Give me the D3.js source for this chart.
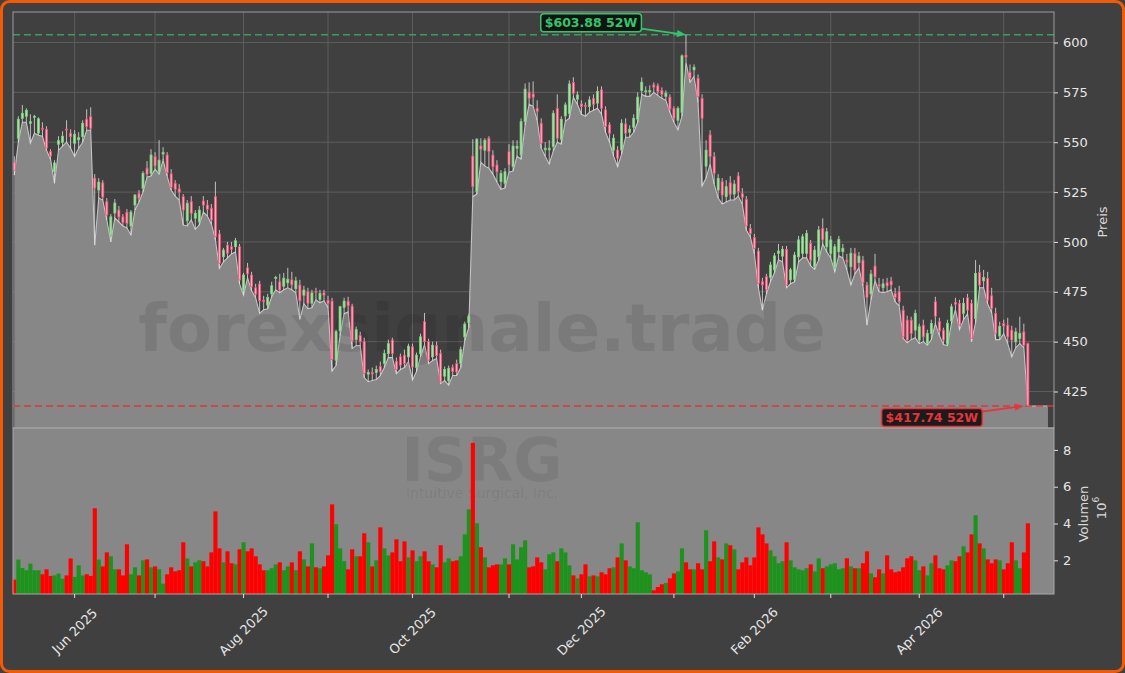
<!DOCTYPE html>
<html>
<head>
<meta charset="utf-8">
<script src="https://cdn.jsdelivr.net/npm/d3@7"></script>
<style>
  body { margin: 0; background: #404040; }
  svg { display: block; font-family: "DejaVu Sans", sans-serif; }
</style>
</head>
<body>
<div id="chart"></div>
<script>
// ISRG daily candles, May 2025 - May 2026: [open, high, low, close]
const candles = [
  [540,543,533.5,536],[552,563,550,561.5],[562,568.7,560,564.5],[563,567,560,566],[559.5,564,549.5,560.3],
  [562.5,563.7,554.5,563],[554.6,562.5,553.5,561.7],[557,560,553,556.5],[556.5,558,546,547],[545.3,546.5,541.5,543.1],
  [535.2,541,529.4,539.6],[549,553,546,550.8],[550,555.5,548,553],[556.6,561,550,556.2],[554.5,556.5,547,552.8],
  [549.5,556,542.8,554],[551.2,555,547,552.3],[552.8,561,550,559.5],[561.5,566.5,556,557.8],[562.8,567.5,556,557],
  [532,534,498.4,527],[526,532,522,530],[529.6,531,521,522.5],[520.2,522,511,513.5],[503.5,514,500,512.6],
  [514.5,521.5,512,519.5],[516,518,510,512.5],[512.6,514,508,509.8],[514.9,516.5,507,509.3],[508,516,503.5,515],
  [518.5,524,516,523.5],[524.4,526,520,521.9],[526.9,535.5,525,534.4],[537,540.5,532.5,534],[534.4,546.5,533,543.6],
  [542.8,545,536.5,538.1],[535.2,551,534,541],[544.1,547.5,541,544.8],[543.6,545,533,534.7],[534.1,536.5,526,527.4],
  [529.4,531,523,526.4],[526.6,529,521,525],[522.7,524,508.5,516],[510.6,521,508,519.4],[520.2,523,511,514.4],
  [511.9,516,506.3,514.4],[510.1,518,508.5,516],[520.5,523,515,518.5],[518.5,521,513,516.4],[516.9,519,509,511],
  [522.7,530.2,501,502.6],[504,506,486.7,489.3],[492.6,497,490,495.9],[498.4,500,492,494.3],[497.6,500,494,496.3],
  [497.6,502,495,500.6],[497.6,499,479,480.9],[475.8,484.5,473.3,483.4],[487,489.5,482,484],[483.4,485,475.5,477.5],
  [477,479,472,473.8],[478.9,480.5,464.2,470.5],[470.8,473,466,470],[468.3,474,466.5,472.2],[474,480,472.5,478],
  [481.7,483,476,482.2],[480,484,474.5,475.9],[477.8,484.5,476,481.8],[479.5,487,477,481.3],[481,485,476,478.5],
  [476.5,482.5,474.5,480.5],[478.4,481,461.2,470.5],[473.3,478,469,475.9],[475,477,466.5,469.2],[469.3,476,467,474.4],
  [475.3,477,471,474.8],[471.2,476,469.5,474.2],[474.5,476,470.5,473.3],[470.8,473,467,469.2],[470.3,472,435.2,441],
  [440.7,456,438,455],[455.4,468,453,467.5],[467.2,472,464,470.3],[470.3,472.5,465,468],[467.8,469,446.6,450.4],
  [451,457.5,448,456],[453,455,448,450],[450,452,432,434.1],[433.7,436,429.9,434.5],[434.5,437,430.5,433.8],
  [434.6,438,431,436],[437.5,440,433,435],[439,446,437,444],[444,451,442,449],[450.8,452,442,444],
  [440,442,434,436],[442.4,444,436,438.2],[443.2,446,437,439],[442.4,449,440,447.7],[447.4,449,430.7,437.3],
  [437,444.5,435,443.2],[444,454,442.5,452.4],[460,464.4,448.5,450],[450,451.5,439,440.7],[442.4,450,440.5,448.2],
  [448,450,441.5,443],[444,446,429,429.8],[432.7,437.5,430.5,436],[430.3,438,428.2,436.5],[437,438.5,433,435],
  [439,441,433,434.8],[439,447.5,437,446],[452.4,460,450.5,458.8],[459.5,464,457,462.8],[543.1,551.5,522.7,527.7],
  [525.2,552,524,551.5],[548.2,552,540,546.5],[546,552,538,551],[552,553,537,545.3],[543.6,546,534,537.7],
  [538.6,541,530,535.2],[530.2,536,526.4,534.4],[529.4,537,527,535.2],[545.3,549,535,538.6],[537.7,551,535.5,548.1],
  [547,551,543,548],[543.6,562,541.5,560.3],[560.3,579.5,558.5,576.6],[575.2,580,569,572],[574.2,580.5,568,572.6],
  [567,571,561,565.4],[559.5,562,547,549.5],[546.2,550,543,547],[546.2,551,539,547],[547.8,566,545.5,564.5],
  [567,574,550,552],[551.5,563,549,561.5],[563.2,570,560.5,568.7],[564.5,581,562,579.2],[579.9,582.6,572.5,574.6],
  [571.6,575.5,569,573.7],[569.2,571,564,567.9],[568.5,570,563,567.9],[567.9,573,565,571.2],[572,574,566,569],
  [569.6,578,567,575.4],[576.3,578,564,567],[566.2,568,555,557.8],[558.7,560,550,554.5],[546,554,543,552],
  [546.1,548,537.7,542],[546.1,561.5,544,559.5],[559.2,562,552.5,554.5],[555,558.5,552.5,556.5],[557.5,564,555,562],
  [561.5,575,560,572.6],[575.9,582.5,574,580.1],[575.3,578,573,575.8],[575.3,578.5,573,575.9],[578.8,580,575,577.6],
  [578.3,579.5,573.5,575.4],[576,577.5,572,574],[572.9,576,571,574.6],[572.6,574,565,566.6],[567,568,560,562],
  [561,568,556.2,567],[564.9,594,563,593.3],[593.7,603.88,590,592.7],[585.1,589,580,582.1],[586.3,589,583,587.6],
  [582.1,584,570,572.9],[572,574,528,562],[538,551,532,546],[553.7,556,539,542.8],[542.8,545,529,534.4],
  [526,534,522,531.9],[530.2,532,519,523.5],[522.7,531,520,527.7],[529.7,533,521,523.9],[524,531,521,529],
  [533.1,535,523,525.2],[524.2,527,519,522.4],[521.4,523,506,508],[506.8,509,502.5,504.3],[502.3,504,494,496.8],
  [495.4,497,477,479.2],[480,482,465.8,478.5],[482.6,484,474,476],[482.2,490,480,488.4],[486,494.5,484.5,493],
  [494.3,499,491,495.4],[492.9,498,490,496.3],[496.3,498,477,478.4],[481,487,479,486],[481.2,495,480,493.4],
  [492.6,503,490,501],[494.3,504,492,502.6],[494.3,506,492,504.3],[499.3,501,488,490.9],[487.6,498,486.3,495.9],
  [492.6,508,491,506],[506.8,511.8,499,501],[497.6,507,495,505.1],[494.3,503,492,501],[487.3,499,485,497.6],
  [495.1,503,493,501.3],[495.1,499,492,496.8],[490.9,494,486,490],[487.6,497,478.4,494.3],[494.2,497,484,485.9],
  [489.6,495,487,492.9],[490.9,493,478,479.5],[478.4,480,458.3,472.2],[473.9,486,471,483.9],[487.9,494,480.5,482.5],
  [478.7,482,475,477.9],[477,481.5,474.5,479],[479.6,482,475,477.9],[480.4,482.5,476,478.4],[474.2,477,470,472.2],
  [475,478,468,470],[465.8,468,451.6,452.4],[460.8,463,449.4,450.8],[460.8,462.5,451,454.1],[455.8,466,452,464.2],
  [450.8,459,449,457.5],[458.3,461,450,452.4],[449.1,456,448.2,454.1],[454.1,461,451,459.1],[470,472.5,459,462.8],
  [460,462,453,455.4],[455.7,457,448.5,450.8],[448.8,461,448,459.2],[460.5,469,459,467.5],[469.7,472,466,468.8],
  [469.2,471,456,458.3],[464.2,472,461,469.2],[472,474,464,465.8],[469.2,471,450,451.6],[461.6,490.9,459.5,484.2],
  [484.7,488.5,477,478.4],[480.5,486,477,482.2],[481.7,485,469,470.8],[473,477,464.5,466.7],[464.2,467,451,454.1],
  [452.8,460,451,457.6],[459.1,461,454,457.8],[458.3,462,449,452.4],[455.8,458,442.4,450.8],[449.9,457,447,454.9],
  [451.6,462.5,449,454.1],[454.9,459,447,448.2],[449,449.5,417.74,418.2]
];

// daily volume, millions
const volumes = [
  0.95,2.04,1.58,1.46,1.82,1.46,1.46,1.24,1.51,1.15,1.18,1.28,1.0,1.18,2.1,1.1,1.73,1.18,1.24,1.15,
  4.83,2.04,1.67,2.43,2.22,1.51,1.51,1.18,2.87,1.24,1.62,1.18,2.0,2.05,1.62,1.67,1.51,0.73,1.24,1.62,
  1.4,1.46,2.98,2.1,1.67,1.89,2.0,1.95,1.67,2.43,4.66,2.65,1.89,2.49,1.84,1.78,2.6,2.98,2.49,2.65,
  2.22,1.78,1.46,1.46,1.57,1.78,1.89,1.46,1.67,1.89,1.46,2.49,2.05,1.67,2.92,1.62,1.57,1.67,2.27,5.04,
  3.96,2.65,1.95,1.51,2.6,2.22,2.22,3.47,2.98,1.67,2.0,3.79,2.65,2.27,2.43,3.14,1.95,3.03,2.16,2.54,
  1.95,2.22,2.49,1.95,1.78,1.62,2.82,1.89,2.11,1.95,2.0,2.22,3.41,4.77,8.38,4.01,2.71,2.16,1.62,1.73,
  1.78,1.78,2.11,1.78,2.87,2.05,2.71,3.09,1.62,1.67,2.16,1.89,1.51,2.33,2.43,1.95,2.65,2.43,1.73,1.18,
  1.02,1.24,1.78,1.13,1.18,1.13,1.35,1.24,1.57,1.62,2.16,2.92,2.0,1.67,1.57,4.07,1.46,1.35,1.24,0.37,
  0.55,0.7,0.77,1.02,1.29,1.4,2.65,1.89,1.51,1.51,1.84,1.51,3.63,1.95,3.03,2.16,2.05,2.92,2.82,2.6,
  1.51,1.89,2.16,1.73,2.16,3.79,3.41,2.92,2.54,2.22,1.84,1.95,2.98,2.0,1.62,1.51,1.46,1.57,1.78,1.4,
  2.11,1.57,1.67,1.78,1.84,1.51,1.57,2.11,1.67,1.57,1.57,1.84,2.49,1.29,1.08,1.51,1.29,2.27,1.51,1.35,
  1.4,1.62,2.11,2.22,2.0,1.46,1.67,1.18,1.84,2.27,1.57,1.51,1.73,2.0,1.95,2.22,2.76,2.43,3.41,4.45,
  2.92,2.65,2.05,1.84,2.05,2.0,1.51,1.84,2.98,2.0,1.57,2.43,4.01
];

// first trading day of each month (index into the candles)
const monthTickIdx = [15, 35, 57, 78, 99, 123, 141, 164, 184, 203, 225, 246];
const monthTickLabels = ["Jun 2025", "", "Aug 2025", "", "Oct 2025", "", "Dec 2025", "", "Feb 2026", "", "Apr 2026", ""];
const priceTicks = [425, 450, 475, 500, 525, 550, 575, 600];
const volumeTicks = [2, 4, 6, 8];

const W = 1125, H = 673;
const box = {left: 13, right: 1054, top: 12, mid: 428, bottom: 594};

const svg = d3.select("#chart").append("svg")
    .attr("width", W)
    .attr("height", H);

svg.append("rect")
    .attr("x", 1.5).attr("y", 1.5)
    .attr("width", W - 3).attr("height", H - 3)
    .attr("rx", 8)
    .attr("fill", "#404040")
    .attr("stroke", "#f25a05")
    .attr("stroke-width", 3);

const N = candles.length;
const x = d3.scaleLinear().domain([-0.32, 258.5]).range([box.left, box.right]);
const step = x(1) - x(0);
const yP = d3.scaleLinear().domain([406.7, 615.3]).range([box.mid, box.top]);
const yV = d3.scaleLinear().domain([0.17, 9.19]).range([box.bottom, box.mid]);

const upStroke = "#72d872", upFill = "#b9d8b9";
const dnStroke = "#ff4a76", dnFill = "#f3b3c2";

// grid
const grid = svg.append("g");
grid.selectAll("line.h")
  .data(priceTicks)
  .enter().append("line")
    .attr("x1", box.left).attr("x2", box.right)
    .attr("y1", d => yP(d)).attr("y2", d => yP(d))
    .attr("stroke", "#5d5d5d").attr("stroke-width", 1);
grid.selectAll("line.v")
  .data(monthTickIdx)
  .enter().append("line")
    .attr("x1", d => x(d)).attr("x2", d => x(d))
    .attr("y1", box.top).attr("y2", box.mid)
    .attr("stroke", "#5d5d5d").attr("stroke-width", 1);

// area under the lows
const lows = candles.map(d => d[2]);
const areaPts = lows.map((l, i) => [x(i), yP(l)]);
areaPts.push([x(N - 1 + 5), yP(lows[N - 1])]);
svg.append("path")
    .attr("d", d3.area().x(d => d[0]).y0(box.mid).y1(d => d[1])(areaPts))
    .attr("fill", "#878787");
svg.append("path")
    .attr("d", d3.line()(areaPts))
    .attr("fill", "none")
    .attr("stroke", "#c4c4c4")
    .attr("stroke-width", 1.1);

// watermark
svg.append("text")
    .attr("x", 482).attr("y", 351)
    .attr("text-anchor", "middle")
    .style("font-size", "66px")
    .style("font-weight", "bold")
    .attr("fill", "#000").attr("fill-opacity", 0.09)
    .text("forexsignale.trade");

// 52 week lines
const hiIdx = d3.maxIndex(candles, d => d[1]);
const loIdx = d3.minIndex(candles, d => d[2]);
const hi = candles[hiIdx][1], lo = candles[loIdx][2];
svg.append("line")
    .attr("x1", box.left).attr("x2", box.right)
    .attr("y1", yP(hi)).attr("y2", yP(hi))
    .attr("stroke", "#3a9e5f").attr("stroke-width", 1.6)
    .attr("stroke-dasharray", "7,4");
svg.append("line")
    .attr("x1", box.left).attr("x2", box.right)
    .attr("y1", yP(lo)).attr("y2", yP(lo))
    .attr("stroke", "#d83a3a").attr("stroke-width", 1.6)
    .attr("stroke-dasharray", "7,4");

// candles
const cg = svg.append("g");
cg.selectAll("line.wick")
  .data(candles)
  .enter().append("line")
    .attr("x1", (d, i) => x(i)).attr("x2", (d, i) => x(i))
    .attr("y1", d => yP(d[1])).attr("y2", d => yP(d[2]))
    .attr("stroke", "#e2e2e2").attr("stroke-width", 0.8);
const bw = step * 0.5;
cg.selectAll("rect.body")
  .data(candles)
  .enter().append("rect")
    .attr("x", (d, i) => x(i) - bw / 2)
    .attr("y", d => yP(Math.max(d[0], d[3])))
    .attr("width", bw)
    .attr("height", d => Math.max(1, Math.abs(yP(d[0]) - yP(d[3]))))
    .attr("fill", d => d[3] >= d[0] ? upFill : dnFill)
    .attr("stroke", d => d[3] >= d[0] ? upStroke : dnStroke)
    .attr("stroke-width", 0.8);

// volume panel
svg.append("rect")
    .attr("x", box.left).attr("y", box.mid)
    .attr("width", box.right - box.left).attr("height", box.bottom - box.mid)
    .attr("fill", "#878787");

svg.append("text")
    .attr("x", 482).attr("y", 481)
    .attr("text-anchor", "middle")
    .style("font-size", "60px").style("font-weight", "bold")
    .attr("fill", "#000").attr("fill-opacity", 0.08)
    .text("ISRG");
svg.append("text")
    .attr("x", 482).attr("y", 498)
    .attr("text-anchor", "middle")
    .style("font-size", "14px")
    .attr("fill", "#000").attr("fill-opacity", 0.08)
    .text("Intuitive Surgical, Inc.");

svg.selectAll("rect.vol")
  .data(volumes)
  .enter().append("rect")
    .attr("x", (d, i) => x(i) - step / 2)
    .attr("y", d => yV(d))
    .attr("width", step + 0.1)
    .attr("height", d => box.bottom - yV(d))
    .attr("fill", (d, i) => candles[i][3] >= candles[i][0] ? "#1d931d" : "#ff0000");

// frames
svg.append("rect")
    .attr("x", box.left).attr("y", box.top)
    .attr("width", box.right - box.left).attr("height", box.mid - box.top)
    .attr("fill", "none").attr("stroke", "#9c9c9c").attr("stroke-width", 1);
svg.append("rect")
    .attr("x", box.left).attr("y", box.mid)
    .attr("width", box.right - box.left).attr("height", box.bottom - box.mid)
    .attr("fill", "none").attr("stroke", "#a8a8a8").attr("stroke-width", 1);

// right axes
const pAxis = svg.append("g")
    .attr("transform", `translate(${box.right},0)`)
    .call(d3.axisRight(yP).tickValues(priceTicks).tickSize(4).tickPadding(5));
const vAxis = svg.append("g")
    .attr("transform", `translate(${box.right},0)`)
    .call(d3.axisRight(yV).tickValues(volumeTicks).tickSize(4).tickPadding(5));
[pAxis, vAxis].forEach(a => {
  a.select(".domain").remove();
  a.selectAll("line").attr("stroke", "#dddddd");
  a.selectAll("text").attr("fill", "#e6e6e6").style("font-size", "13px")
    .style("font-family", "DejaVu Sans, sans-serif");
});

// bottom axis
const xg = svg.append("g");
xg.selectAll("line")
  .data(monthTickIdx)
  .enter().append("line")
    .attr("x1", d => x(d)).attr("x2", d => x(d))
    .attr("y1", box.bottom).attr("y2", box.bottom + 4)
    .attr("stroke", "#dddddd");
xg.selectAll("text")
  .data(monthTickIdx.filter((d, i) => monthTickLabels[i] !== ""))
  .enter().append("text")
    .attr("transform", d => `translate(${x(d)},631) rotate(-45)`)
    .attr("text-anchor", "middle")
    .attr("dominant-baseline", "central")
    .attr("fill", "#e6e6e6")
    .style("font-size", "13px")
    .text(d => monthTickLabels[monthTickIdx.indexOf(d)]);

// axis titles
svg.append("text")
    .attr("transform", "translate(1102,222) rotate(-90)")
    .attr("text-anchor", "middle").attr("dominant-baseline", "central")
    .attr("fill", "#d8d8d8").style("font-size", "13px")
    .text("Preis");
svg.append("text")
    .attr("transform", "translate(1083,514) rotate(-90)")
    .attr("text-anchor", "middle").attr("dominant-baseline", "central")
    .attr("fill", "#d8d8d8").style("font-size", "13px")
    .text("Volumen");
const exp = svg.append("text")
    .attr("transform", "translate(1101,508) rotate(-90)")
    .attr("text-anchor", "middle").attr("dominant-baseline", "central")
    .attr("fill", "#d8d8d8").style("font-size", "13px");
exp.append("tspan").text("10");
exp.append("tspan").attr("dy", -5).style("font-size", "9px").text("6");

// 52W annotations
function label(txt, cx, cy, color, tx, ty) {
  const g = svg.append("g");
  const t = g.append("text")
      .attr("x", cx).attr("y", cy)
      .attr("text-anchor", "middle").attr("dominant-baseline", "central")
      .attr("fill", color)
      .style("font-size", "12.5px").style("font-weight", "bold")
      .text(txt);
  const bb = t.node().getBBox();
  g.insert("rect", "text")
      .attr("x", bb.x - 4).attr("y", cy - 9)
      .attr("width", bb.width + 8).attr("height", 18)
      .attr("rx", 3)
      .attr("fill", "#0c0c0c").attr("fill-opacity", 0.88)
      .attr("stroke", color).attr("stroke-width", 1.5);
  const x0 = bb.x + bb.width + 4;
  const y0 = cy + (ty < cy ? -6 : 6);
  const ang = Math.atan2(ty - y0, tx - x0);
  const hl = 9, hw = 3.5;
  const bx = tx - hl * Math.cos(ang), by = ty - hl * Math.sin(ang);
  g.append("line")
      .attr("x1", x0).attr("y1", y0).attr("x2", bx).attr("y2", by)
      .attr("stroke", color).attr("stroke-width", 1.8);
  g.append("path")
      .attr("d", `M${tx},${ty}L${bx - hw * Math.sin(ang)},${by + hw * Math.cos(ang)}L${bx + hw * Math.sin(ang)},${by - hw * Math.cos(ang)}Z`)
      .attr("fill", color);
}
label(`$${hi.toFixed(2)} 52W`, x(hiIdx) - 95, 22.7, "#2fc76a", x(hiIdx), yP(hi));
label(`$${lo.toFixed(2)} 52W`, x(loIdx) - 96, 417.5, "#e8343a", x(loIdx) - 4, yP(lo));
</script>
</body>
</html>
